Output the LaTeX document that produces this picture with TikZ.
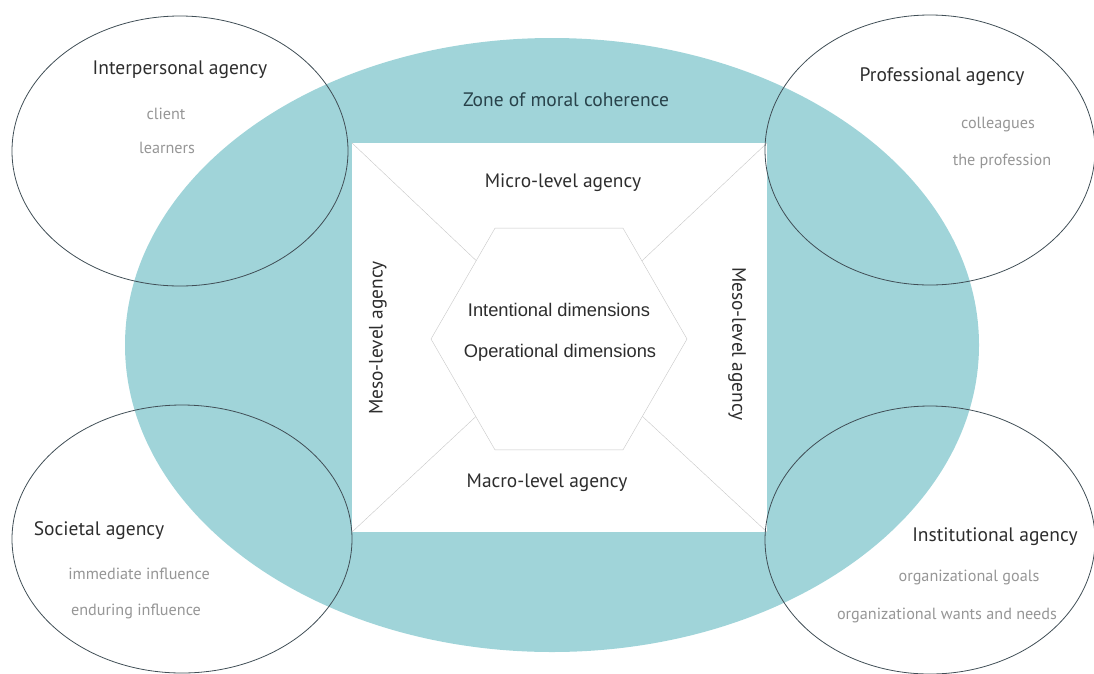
\documentclass[tikz,border=0pt]{standalone}
\usepackage{fontspec}
\setmainfont{PT Sans}
\newfontfamily\arialfont{Liberation Sans}
\usetikzlibrary{shapes.geometric}
\definecolor{zonefill}{RGB}{160,212,217}
\definecolor{rim}{RGB}{64,78,86}
\definecolor{headtext}{RGB}{45,45,45}
\definecolor{subtext}{RGB}{150,150,150}
\definecolor{zonetext}{RGB}{40,66,74}
\definecolor{hexline}{RGB}{200,200,200}

\begin{document}
\begin{tikzpicture}[x=1pt,y=-1pt,
  agency/.style={font=\fontsize{19.5}{22}\selectfont,text=headtext},
  item/.style={font=\fontsize{16.2}{18}\selectfont,text=subtext},
  level/.style={font=\fontsize{19.4}{21}\selectfont,text=headtext},
  dim/.style={font=\arialfont\fontsize{18.3}{20}\selectfont,text=headtext}]
\useasboundingbox (0,0) rectangle (1094,673);
% zone of moral coherence and the white frame
\fill[zonefill] (552,345) ellipse [x radius=427, y radius=307];
\node[fill=white,minimum width=415pt,minimum height=389pt,inner sep=0pt] (frame) at (559.5,337.5) {};
\node[regular polygon,regular polygon sides=6,minimum size=256pt,draw=hexline,fill=white,inner sep=0pt] (hex) at (559,339) {};
\foreach \c in {north west,north east,south west,south east}
  \draw[hexline] (frame.\c) -- (hex);
\node[agency,text=zonetext] (zone) at (566,100) {Zone of moral coherence};
\node[level] (micro) at (563,183) {Micro-level agency};
\node[level] (macro) at (547,483) {Macro-level agency};
\node[level,rotate=90] (mesoL) at (378,338) {Meso-level agency};
\node[level,rotate=-90] (mesoR) at (737,344) {Meso-level agency};
\node[dim] (intent) at (559,310) {Intentional dimensions};
\node[dim] (oper) at (560,353) {Operational dimensions};
% the four agencies
\draw[rim,line width=0.8pt] (180,151) ellipse [x radius=168, y radius=135];
\draw[rim,line width=0.8pt] (930,150) ellipse [x radius=165, y radius=135];
\draw[rim,line width=0.8pt] (182,539) ellipse [x radius=170, y radius=134];
\draw[rim,line width=0.8pt] (930,540) ellipse [x radius=165, y radius=134];
\node[agency] (inter) at (180,70) {Interpersonal agency};
\node[item] (client) at (166,114) {client};
\node[item] (learn) at (167,148) {learners};
\node[agency] (prof) at (942,77) {Professional agency};
\node[item] (coll) at (998,125) {colleagues};
\node[item] (profession) at (1002,161) {the profession};
\node[agency] (soc) at (99,531) {Societal agency};
\node[item] (immed) at (139,574) {immediate influence};
\node[item] (endur) at (136,611) {enduring influence};
\node[agency] (inst) at (995,537) {Institutional agency};
\node[item] (goals) at (969,577) {organizational goals};
\node[item] (wants) at (947,615) {organizational wants and needs};
\end{tikzpicture}
\end{document}
